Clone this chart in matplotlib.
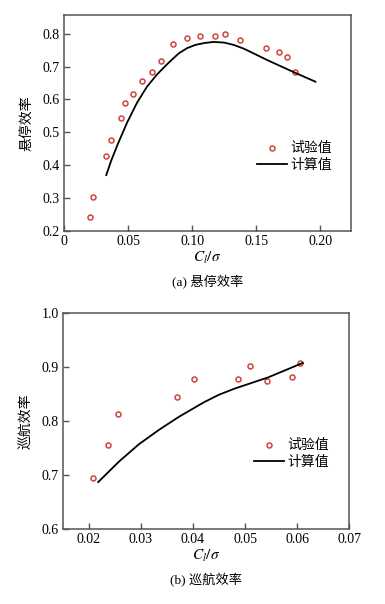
import matplotlib
matplotlib.use('Agg')
import matplotlib.pyplot as plt

plt.rcParams['font.family'] = ['Liberation Serif', 'Noto Sans CJK SC']
plt.rcParams['mathtext.fontset'] = 'stix'

# (a) hover efficiency
hover_exp_x = [0.0205, 0.0223, 0.0326, 0.0365, 0.0446, 0.0477, 0.0541, 0.0606, 0.0689, 0.0754,
               0.0850, 0.0959, 0.1060, 0.1179, 0.1259, 0.1373, 0.1580, 0.1679, 0.1741, 0.1806]
hover_exp_y = [0.244, 0.304, 0.429, 0.476, 0.544, 0.590, 0.617, 0.655, 0.685, 0.716,
               0.770, 0.787, 0.794, 0.794, 0.798, 0.782, 0.757, 0.744, 0.728, 0.684]
hover_calc_x = [0.0330, 0.0370, 0.0420, 0.0492, 0.0570, 0.0648, 0.0726, 0.0804, 0.0895,
                0.0960, 0.1025, 0.1100, 0.1170, 0.1250, 0.1324, 0.1400, 0.1454, 0.1585,
                0.1714, 0.1845, 0.1962]
hover_calc_y = [0.370, 0.415, 0.464, 0.529, 0.590, 0.639, 0.676, 0.707, 0.740,
                0.756, 0.766, 0.772, 0.775, 0.773, 0.766, 0.755, 0.745, 0.720,
                0.697, 0.674, 0.654]

# (b) cruise efficiency
cruise_exp_x = [0.0208, 0.0237, 0.0257, 0.0369, 0.0402, 0.0486, 0.0509, 0.0543, 0.0591, 0.0606]
cruise_exp_y = [0.695, 0.756, 0.813, 0.844, 0.878, 0.878, 0.902, 0.875, 0.881, 0.908]
cruise_calc_x = [0.0218, 0.0258, 0.0296, 0.0335, 0.0373, 0.0421, 0.0450, 0.0479, 0.0544, 0.0611]
cruise_calc_y = [0.687, 0.725, 0.757, 0.784, 0.808, 0.835, 0.849, 0.860, 0.881, 0.908]

cjk = ['Noto Sans CJK SC', 'Liberation Serif']
red = '#d0453a'
frame = '#555555'


def draw(ax, ex, ey, cx, cy, ylabel, caption, leg_anchor):
    ax.plot(ex, ey, 'o', mfc='none', mec=red, mew=1.1, ms=3.6, label='试验值')
    ax.plot(cx, cy, '-', color='black', lw=1.3, label='计算值',
            solid_joinstyle='round')
    for s in ax.spines.values():
        s.set_color(frame)
        s.set_linewidth(1.1)
    ax.tick_params(direction='in', length=4, width=1, color=frame, labelsize=10,
                   top=False, right=False, pad=3)
    ax.set_ylabel(ylabel, family=cjk, fontsize=10, labelpad=6)
    ax.set_xlabel(r'$C_l/\sigma$', fontsize=11, labelpad=1)
    ax.text(0.5, -0.205, caption, transform=ax.transAxes, ha='center', va='top',
            family=['Liberation Serif', 'Noto Sans CJK SC'], fontsize=9.5)
    ax.legend(loc='center left', bbox_to_anchor=leg_anchor, frameon=False,
              prop={'family': cjk, 'size': 10}, labelspacing=0.15,
              handlelength=2.1, handletextpad=0.3, borderpad=0.2)


fig = plt.figure(figsize=(3.85, 6.04), dpi=100)

ax1 = fig.add_axes([0.166, 0.6176, 0.746, 0.3576])
draw(ax1, hover_exp_x, hover_exp_y, hover_calc_x, hover_calc_y,
     '悬停效率', '(a) 悬停效率', (0.64, 0.345))
ax1.set_xlim(0, 0.224)
ax1.set_ylim(0.2, 0.857)
ax1.set_xticks([0, 0.05, 0.10, 0.15, 0.20])
ax1.set_xticklabels(['0', '0.05', '0.10', '0.15', '0.20'])
ax1.set_yticks([0.2, 0.3, 0.4, 0.5, 0.6, 0.7, 0.8])

ax2 = fig.add_axes([0.163, 0.1242, 0.744, 0.3571])
draw(ax2, cruise_exp_x, cruise_exp_y, cruise_calc_x, cruise_calc_y,
     '巡航效率', '(b) 巡航效率', (0.635, 0.35))
ax2.set_xlim(0.015, 0.07)
ax2.set_ylim(0.6, 1.0)
ax2.set_xticks([0.02, 0.03, 0.04, 0.05, 0.06, 0.07])
ax2.set_xticklabels(['0.02', '0.03', '0.04', '0.05', '0.06', '0.07'])
ax2.set_yticks([0.6, 0.7, 0.8, 0.9, 1.0])
ax2.set_yticklabels(['0.6', '0.7', '0.8', '0.9', '1.0'])

fig.savefig('out.png', dpi=100)
